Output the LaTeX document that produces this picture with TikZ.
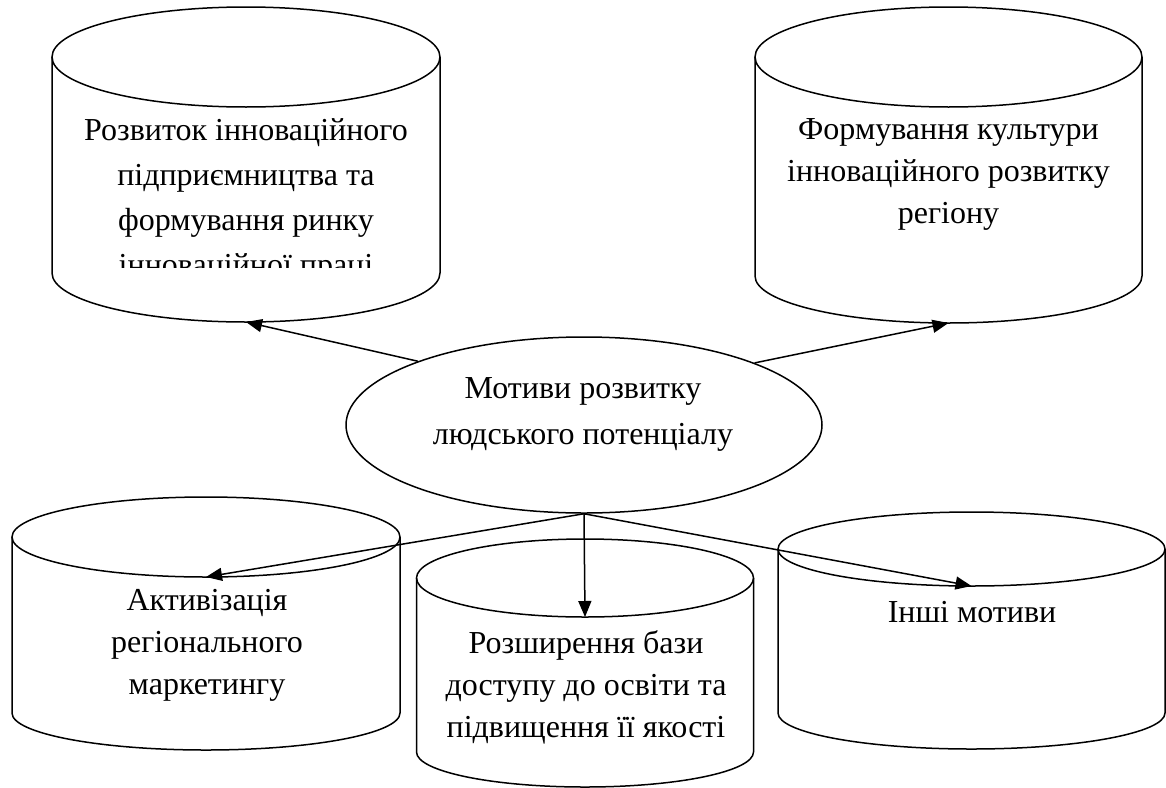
\documentclass[tikz,border=0pt]{standalone}
\usepackage{fontspec}
\setmainfont{Liberation Serif}
\usetikzlibrary{shapes.geometric,arrows.meta}

\tikzset{
    cyltext/.style={align=center, font=\fontsize{32}{42}\selectfont, inner sep=0pt},
    conn/.style={line width=1.5pt, -{Triangle[length=16pt,width=13pt]}}
}

\begin{document}
\begin{tikzpicture}[x=1pt, y=1pt, line width=1.5pt]
    \useasboundingbox (0,0) rectangle (1166,-787);

    % cylinders: name / centre x / top y / bottom y / half width / top ry / bottom ry
    \foreach \name/\cx/\yt/\yb/\hw/\ryt/\ryb in {
        rozvytok/246/57/273/194/50/49,
        kultura/948.5/57/276/193.5/50/47,
        marketynh/206/537/713/194/40/37,
        osvita/585/578/752/168.5/39/35,
        inshi/971.5/549/713/193.5/37/36
    } {
        \draw ({\cx-\hw}, -\yt) -- ({\cx-\hw}, -\yb)
            arc[start angle=180, end angle=360, x radius=\hw, y radius=\ryb]
            -- ({\cx+\hw}, -\yt);
        \draw (\cx, -\yt) ellipse [x radius=\hw, y radius=\ryt];
        \coordinate (\name-top) at (\cx, {-(\yt+\ryt)});
        \coordinate (\name-bot) at (\cx, {-(\yb+\ryb)});
    }

    % texts of the cylinders
    \begin{scope}
        \clip (0,0) rectangle (1166,-267);
        \node[cyltext, font=\fontsize{32}{45}\selectfont] (rozvytok-text) at (246,-200)
            {Розвиток інноваційного\\підприємництва та\\формування ринку\\інноваційної праці};
    \end{scope}
    \node[cyltext] (kultura-text) at (948.5,-174)
        {Формування культури\\інноваційного розвитку\\регіону};
    \node[cyltext] (marketynh-text) at (207,-645)
        {Активізація\\регіонального\\маркетингу};
    \node[cyltext] (osvita-text) at (586,-687)
        {Розширення бази\\доступу до освіти та\\підвищення її якості};
    \node[cyltext] (inshi-text) at (972,-612) {Інші мотиви};

    % centre
    \node[draw, ellipse, minimum width=476, minimum height=176, inner sep=0pt] (motyvy) at (584,-425) {};
    \node[cyltext, font=\fontsize{32}{46}\selectfont] (motyvy-text) at (583,-414)
        {Мотиви розвитку\\людського потенціалу};

    % arrows
    \draw[conn] (motyvy.159) -- (rozvytok-bot);
    \draw[conn] (motyvy.20) -- (kultura-bot);
    \draw[conn] (motyvy.south) -- (marketynh-top);
    \draw[conn] (motyvy.south) -- (osvita-top);
    \draw[conn] (motyvy.south) -- (inshi-top);

\end{tikzpicture}
\end{document}
